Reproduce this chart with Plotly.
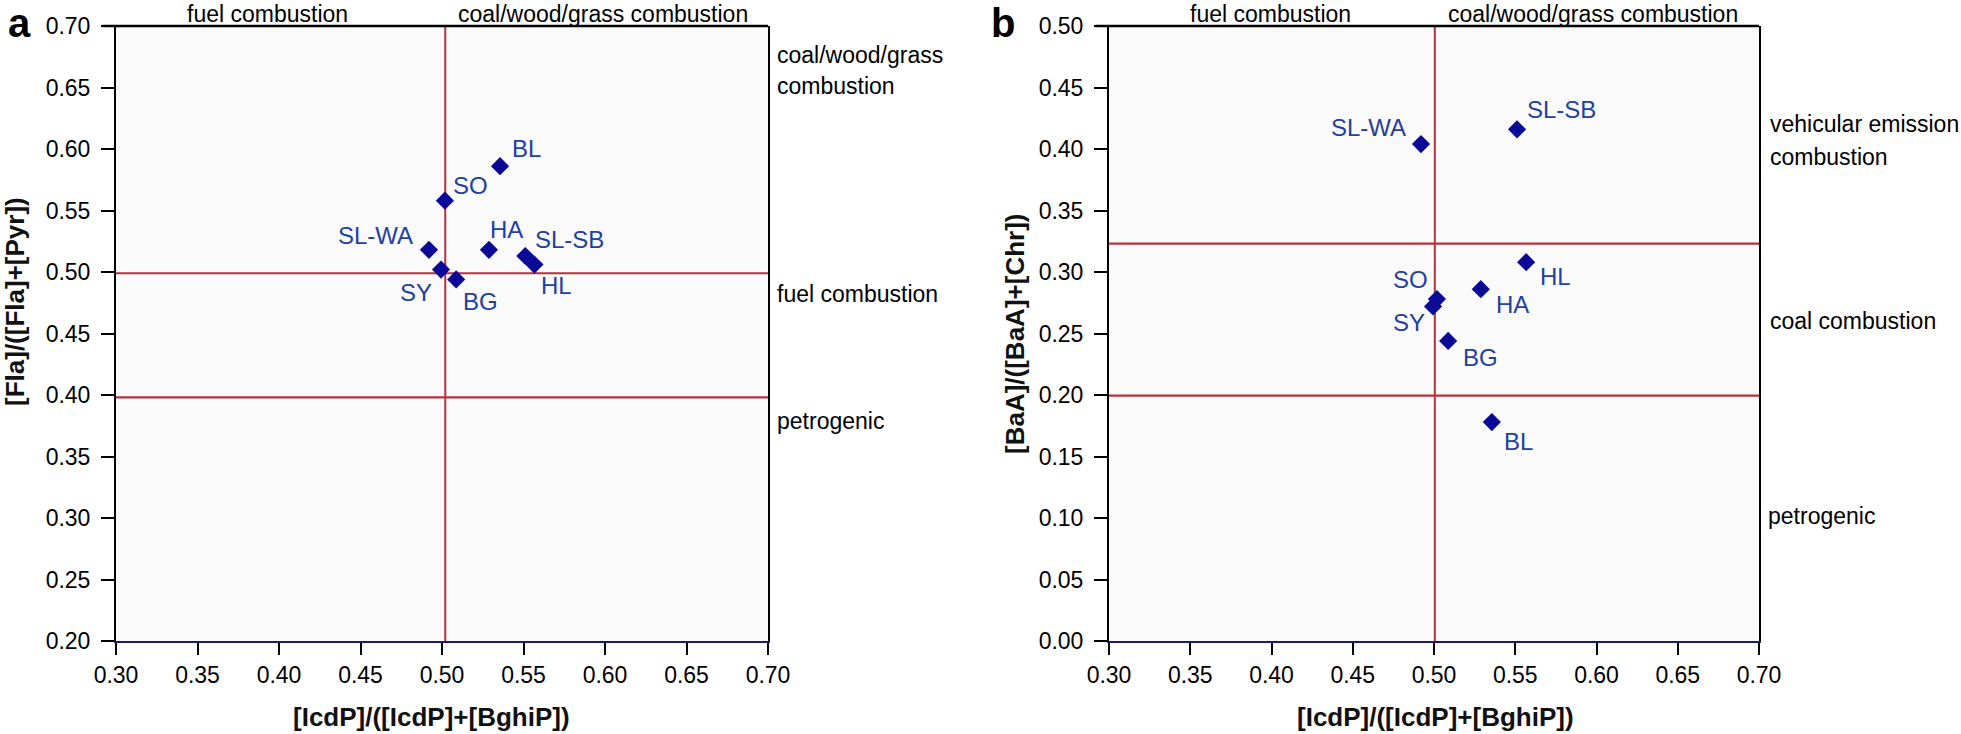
import plotly.graph_objects as go

# ---------------- data ----------------
sites = ["SL-WA", "SO", "SY", "BG", "HA", "BL", "SL-SB", "HL"]
icdp_ratio = [0.492, 0.5018, 0.4994, 0.5087, 0.5288, 0.5356, 0.5511, 0.5567]
fla_ratio = [0.518, 0.558, 0.502, 0.494, 0.518, 0.586, 0.513, 0.506]
baa_ratio = [0.404, 0.278, 0.272, 0.244, 0.286, 0.178, 0.416, 0.308]

x_ticks = [0.30, 0.35, 0.40, 0.45, 0.50, 0.55, 0.60, 0.65, 0.70]
ya_ticks = [0.20, 0.25, 0.30, 0.35, 0.40, 0.45, 0.50, 0.55, 0.60, 0.65, 0.70]
yb_ticks = [0.00, 0.05, 0.10, 0.15, 0.20, 0.25, 0.30, 0.35, 0.40, 0.45, 0.50]

a_vline = [0.502]
a_hlines = [0.499, 0.398]
b_vline = [0.5005]
b_hlines = [0.323, 0.1995]

# ---------------- styles ----------------
W, H = 1961, 734
FONT = "Liberation Sans, Arial, sans-serif"
MARKER = "#0a0a96"
LABEL = "#22409c"
RED = "#b3333d"

# label offsets (px): (dx, dy up)
off_a = {"SL-WA": (-53, 14), "SO": (26, 15), "SY": (-25, -23), "BG": (24, -22),
         "HA": (18, 20), "BL": (26, 18), "SL-SB": (44, 17), "HL": (22, -21)}
off_b = {"SL-WA": (-53, 17), "SO": (-26, 20), "SY": (-24, -16), "BG": (32, -17),
         "HA": (32, -15), "BL": (27, -19), "SL-SB": (44, 20), "HL": (29, -14)}


def px_x(p):
    return p / W


def px_y(p):
    return (H - p) / H


fig = go.Figure()
fig.add_trace(go.Scatter(x=icdp_ratio, y=fla_ratio, mode="markers", xaxis="x", yaxis="y",
                         marker=dict(symbol="diamond", size=14, color=MARKER, line=dict(width=0)),
                         showlegend=False, cliponaxis=False))
fig.add_trace(go.Scatter(x=icdp_ratio, y=baa_ratio, mode="markers", xaxis="x2", yaxis="y2",
                         marker=dict(symbol="diamond", size=14, color=MARKER, line=dict(width=0)),
                         showlegend=False, cliponaxis=False))

tickfont = dict(family=FONT, size=23, color="black")
common_x = dict(range=[0.3, 0.7], tickvals=x_ticks, tickformat=".2f", ticks="outside", ticklen=12,
                tickwidth=2, tickcolor="black", showline=True, linecolor="#1c1c78", linewidth=2,
                mirror=False, showgrid=False, zeroline=False, tickfont=tickfont, fixedrange=True,
                automargin=False)
common_y = dict(tickformat=".2f", ticks="outside", ticklen=13, tickwidth=2, tickcolor="black",
                showline=True, linecolor="black", linewidth=2, mirror=True, showgrid=False,
                zeroline=False, tickfont=tickfont, fixedrange=True, ticklabelstandoff=6,
                automargin=False)

fig.update_layout(
    template="none",
    width=W, height=H, autosize=False, margin=dict(l=0, r=0, t=0, b=0, pad=0),
    paper_bgcolor="white", plot_bgcolor="#fafafa",
    xaxis=dict(domain=[px_x(116), px_x(768)], anchor="y", **common_x),
    yaxis=dict(domain=[px_y(641), px_y(26)], anchor="x", range=[0.2, 0.7], tickvals=ya_ticks, **common_y),
    xaxis2=dict(domain=[px_x(1109), px_x(1759)], anchor="y2", **common_x),
    yaxis2=dict(domain=[px_y(641), px_y(26)], anchor="x2", range=[0.0, 0.5], tickvals=yb_ticks, **common_y),
)

shapes = []
for xr, yr, vl, hl, ymin, ymax in [("x", "y", a_vline, a_hlines, 0.2, 0.7),
                                    ("x2", "y2", b_vline, b_hlines, 0.0, 0.5)]:
    for v in vl:
        shapes.append(dict(type="line", xref=xr, yref=yr, x0=v, x1=v, y0=ymin, y1=ymax,
                           line=dict(color=RED, width=2), layer="below"))
    for h in hl:
        shapes.append(dict(type="line", xref=xr, yref=yr, x0=0.3, x1=0.7, y0=h, y1=h,
                           line=dict(color=RED, width=2.2), layer="below"))
    # top border
    shapes.append(dict(type="line", xref=xr + " domain", yref=yr + " domain", x0=-0.021, x1=1.0,
                       y0=1, y1=1, line=dict(color="black", width=2.5), layer="above"))
fig.update_layout(shapes=shapes)

ann = []
for xr, yr, yv, off in [("x", "y", fla_ratio, off_a), ("x2", "y2", baa_ratio, off_b)]:
    for s, xv, yvv in zip(sites, icdp_ratio, yv):
        dx, dy = off[s]
        ann.append(dict(xref=xr, yref=yr, x=xv, y=yvv, text=s, showarrow=False,
                        xanchor="center", yanchor="middle", xshift=dx, yshift=dy,
                        font=dict(family=FONT, size=24, color=LABEL)))

txt = dict(family=FONT, size=23, color="black")


def paper_text(text, x, y, xanchor="center", font=txt, angle=0):
    ann.append(dict(xref="paper", yref="paper", x=px_x(x), y=px_y(y), text=text, showarrow=False,
                    xanchor=xanchor, yanchor="middle", font=font, textangle=angle))


# top labels
paper_text("fuel combustion", 267, 14)
paper_text("coal/wood/grass combustion", 603, 14)
paper_text("fuel combustion", 1270, 14)
paper_text("coal/wood/grass combustion", 1593, 14)
# right labels panel a
paper_text("coal/wood/grass", 775, 55, "left")
paper_text("combustion", 775, 86, "left")
paper_text("fuel combustion", 775, 294, "left")
paper_text("petrogenic", 775, 421, "left")
# right labels panel b
paper_text("vehicular emission", 1768, 124, "left")
paper_text("combustion", 1768, 157, "left")
paper_text("coal combustion", 1768, 321, "left")
paper_text("petrogenic", 1766, 516, "left")
# panel letters
bold_big = dict(family=FONT, size=40, color="black")
paper_text("<b>a</b>", 19, 23, font=bold_big)
paper_text("<b>b</b>", 1003, 23, font=bold_big)
# axis titles
tfont = dict(family=FONT, size=26, color="#111111")
paper_text("<b>[IcdP]/([IcdP]+[BghiP])</b>", 431, 717, font=tfont)
paper_text("<b>[IcdP]/([IcdP]+[BghiP])</b>", 1435, 717, font=tfont)
paper_text("<b>[Fla]/([Fla]+[Pyr])</b>", 15, 302, font=tfont, angle=-90)
paper_text("<b>[BaA]/([BaA]+[Chr])</b>", 1015, 334, font=tfont, angle=-90)

fig.update_layout(annotations=ann)
# remove the default page margin so the figure fills the window exactly
fig.write_html("out.html", config={"displayModeBar": False},
               post_script="document.body.style.margin='0';document.body.style.overflow='hidden';")
